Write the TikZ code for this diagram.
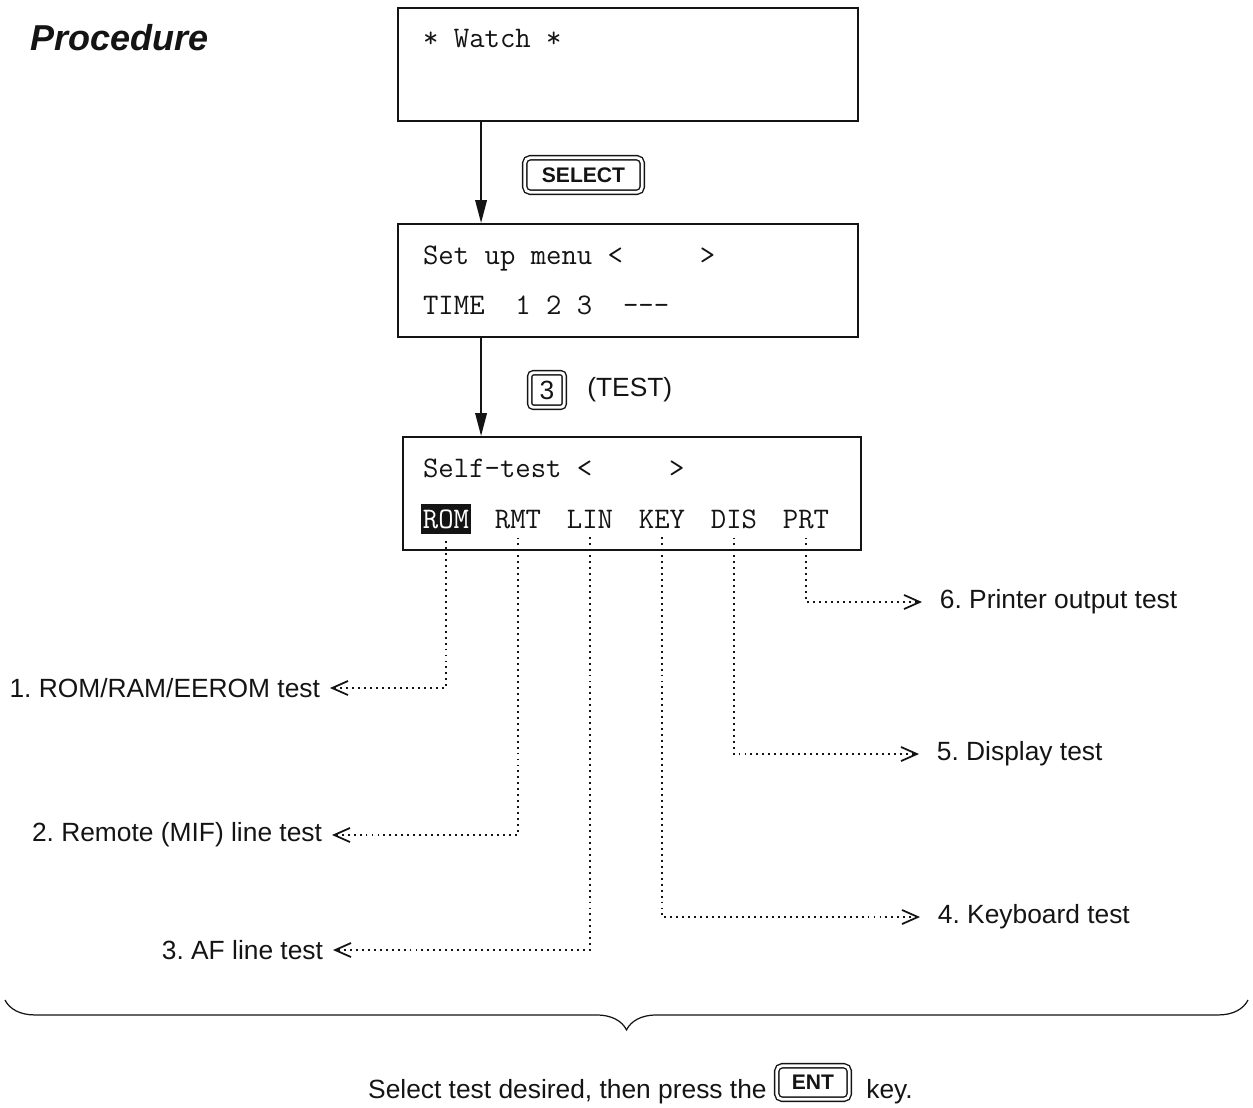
\documentclass[tikz,border=0pt]{standalone}
\usepackage{fontspec}
\setmainfont{Liberation Sans}
\setsansfont{Liberation Sans}
\usetikzlibrary{arrows.meta,decorations.pathreplacing}
\definecolor{procInk}{HTML}{141414}
\frenchspacing
\tikzset{
  proc screen/.style={draw=procInk, line width=1.1pt, minimum width=9.2cm, minimum height=2.26cm, inner sep=0pt},
  proc mono/.style={font=\fontsize{17}{20}\selectfont\ttfamily, text=procInk, inner sep=1pt},
  proc text/.style={font=\fontsize{15}{18}\selectfont\sffamily, text=procInk, inner ysep=2pt},
  proc left/.style={proc text, anchor=east, inner xsep=5.5pt},
  proc right/.style={proc text, anchor=west, inner xsep=10pt},
  proc key/.style={draw=procInk, double, double distance=1.6pt, line width=0.8pt, rounded corners=3pt, inner sep=0pt, font=\fontsize{12}{14}\selectfont\sffamily\bfseries, text=procInk},
  proc flow/.style={draw=procInk, line width=1.1pt, -{Triangle[length=13pt,width=6.5pt]}},
  proc lead/.style={draw=procInk, line width=1pt, dash pattern=on 1.1pt off 2.3pt, shorten <=4pt, -{Straight Barb[length=9pt,width=8pt]}},
  proc brace/.style={draw=procInk, line width=0.7pt, decorate, decoration={brace, mirror, amplitude=17pt}},
}

\begin{document}
\begin{tikzpicture}[x=0.02cm, y=-0.02cm]
  \useasboundingbox (0,0) rectangle (1253,1107);

  % Heading
  \node[anchor=base west, font=\fontsize{20.5}{24}\selectfont\bfseries\itshape, text=procInk, inner sep=0pt] (title) at (30,50) {Procedure};

  % Three display screens
  \node[proc screen] (watch) at (628,64.5) {};
  \node[proc screen] (setup) at (628,280.5) {};
  \node[proc screen, minimum width=9.16cm] (selftest) at (632,493.5) {};

  \node[proc mono, anchor=base west] (watchtxt) at (421,47) {*~Watch~*};
  \node[proc mono, anchor=base west] (setuptxt) at (421,264) {Set~up~menu~<~~~~~>};
  \node[proc mono, anchor=base west] (timetxt) at (421,314) {TIME~~1~2~3~~-{}-{}-};
  \node[proc mono, anchor=base west] (selftxt) at (421,477) {Self-test~<~~~~~>};

  % Test items on the self-test screen
  \node[proc mono, anchor=base, fill=procInk, text=white, inner ysep=3pt, inner xsep=1pt] (ROM) at (446,528) {\addfontfeatures{FakeBold=2}ROM};
  \foreach \tag/\cx in {RMT/518, LIN/590, KEY/662, DIS/734, PRT/806} {
    \node[proc mono, anchor=base] (\tag) at (\cx,528) {\tag};
  }

  % Keys between the screens
  \draw[proc flow] ([xshift=1.68cm]watch.south west) -- ([xshift=1.68cm]setup.north west);
  \node[proc key, minimum width=2.35cm, minimum height=0.69cm] (selectkey) at (583.5,175) {SELECT};

  \draw[proc flow] ([xshift=1.68cm]setup.south west) -- ([xshift=1.68cm]setup.south west |- selftest.north);
  \node[proc key, font=\fontsize{15}{18}\selectfont\sffamily, rounded corners=2pt, minimum width=0.69cm, minimum height=0.69cm] (testkey) at (547,390) {3};
  \node[proc text, anchor=west, inner sep=0pt] (testlbl) at (587,390) {(TEST)};

  % What each item tests
  \node[proc left] (romtest) at (330,688) {1. ROM/RAM/EEROM test};
  \node[proc left] (rmttest) at (332,835) {2. Remote (MIF) line test};
  \node[proc left] (lintest) at (333,950) {3. AF line test};
  \node[proc right] (keytest) at (920,917) {4. Keyboard test};
  \node[proc right] (distest) at (919,754) {5. Display test};
  \node[proc right] (prttest) at (922,602) {6. Printer output test};

  \draw[proc lead] (ROM.south) |- (romtest.east);
  \draw[proc lead] (RMT.south) |- (rmttest.east);
  \draw[proc lead] (LIN.south) |- (lintest.east);
  \draw[proc lead] (KEY.south) |- (keytest.west);
  \draw[proc lead] (DIS.south) |- (distest.west);
  \draw[proc lead] (PRT.south) |- (prttest.west);

  % Brace and closing line
  \coordinate (brace west) at (5,1000);
  \coordinate (brace east) at (1248,1000);
  \draw[proc brace] (brace west) -- (brace east);

  \node[proc key, minimum width=1.45cm, minimum height=0.67cm] (entkey) at (813,1082.5) {ENT};
  \node[proc text, anchor=base east, inner sep=0pt] (selectlbl) at (767,1098) {Select test desired, then press the};
  \node[proc text, anchor=base west, inner sep=0pt] (keylbl) at (866,1098) {key.};
\end{tikzpicture}
\end{document}
